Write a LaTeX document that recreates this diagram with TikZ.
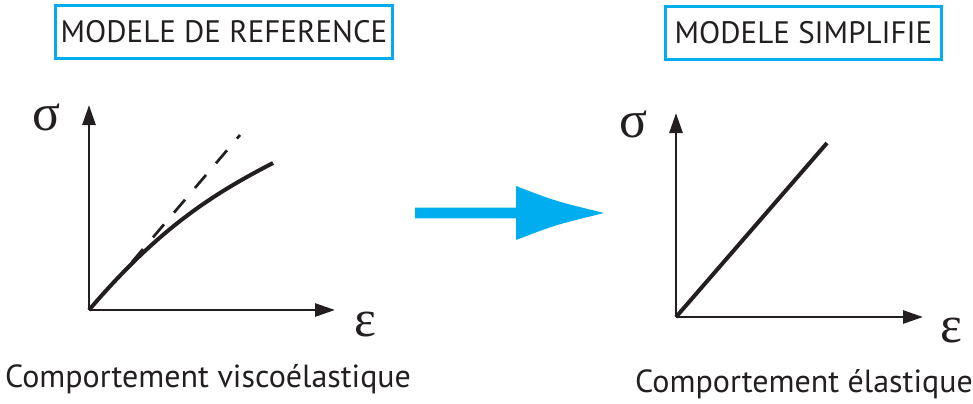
\documentclass[tikz,border=0pt]{standalone}
\usepackage{fontspec}
\setmainfont{PT Sans}
\newfontfamily\greekfont{Liberation Serif}
\usetikzlibrary{arrows.meta}
\definecolor{skyblue}{HTML}{00AEEF}
\definecolor{inkblack}{HTML}{231F20}
\tikzset{titlebox/.style={draw=skyblue,line width=1.5pt,inner sep=0pt,text=inkblack,font=\fontsize{15.5}{19}\selectfont},
  axis/.style={inkblack,line width=1.35pt,-{Triangle[length=10pt,width=6.5pt]}},
  loi/.style={inkblack,line width=2pt},
  tangente/.style={inkblack,line width=1.35pt,dash pattern=on 8.5pt off 7.7pt},
  greeklbl/.style={inner sep=0pt,text=inkblack,font=\greekfont\fontsize{26}{26}\selectfont},
  legende/.style={inner sep=0pt,anchor=base,text=inkblack,font=\fontsize{16}{19}\selectfont}}

\begin{document}
\begin{tikzpicture}[x=0.5pt,y=-0.5pt]
\useasboundingbox (0,0) rectangle (973,403);
% modele de reference
\node[titlebox,minimum width=168.5pt,minimum height=26.5pt] (refbox) at (224,32) {MODELE DE REFERENCE};
\coordinate (oL) at (89,310);
\coordinate (yL) at (89,105);
\coordinate (xL) at (335,310);
\coordinate (crvL) at (273,163);
\coordinate (tgA) at (132,262);
\coordinate (tgB) at (240,135);
\draw[axis] (oL) -- (yL);
\draw[axis] (oL) -- (xL);
\draw[tangente] (tgA) -- (tgB);
\draw[loi] (oL) .. controls (159,228) and (213,194) .. (crvL);
\node[greeklbl] (sigL) at (47,117) {σ};
\node[greeklbl] (epsL) at (365,324) {ε};
\node[legende] (legL) at (208,387) {Comportement viscoélastique};
% fleche
\coordinate (flA) at (415,213);
\coordinate (flB) at (604,213);
\fill[skyblue] (flA) ++(0,-5.3) -- (516,207.7) -- (516,186) .. controls (555,201) .. (flB) .. controls (555,225) .. (516,240) -- (516,218.3) -- (415,218.3) -- cycle;
% modele simplifie
\node[titlebox,minimum width=138pt,minimum height=26.5pt] (simbox) at (803.5,33) {MODELE SIMPLIFIE};
\coordinate (oR) at (676,317);
\coordinate (yR) at (676,113);
\coordinate (xR) at (923,317);
\coordinate (lnR) at (827,143);
\draw[axis] (oR) -- (yR);
\draw[axis] (oR) -- (xR);
\draw[loi] (oR) -- (lnR);
\node[greeklbl] (sigR) at (634,124) {σ};
\node[greeklbl] (epsR) at (951,330) {ε};
\node[legende] (legR) at (804,392) {Comportement élastique};
\end{tikzpicture}
\end{document}
